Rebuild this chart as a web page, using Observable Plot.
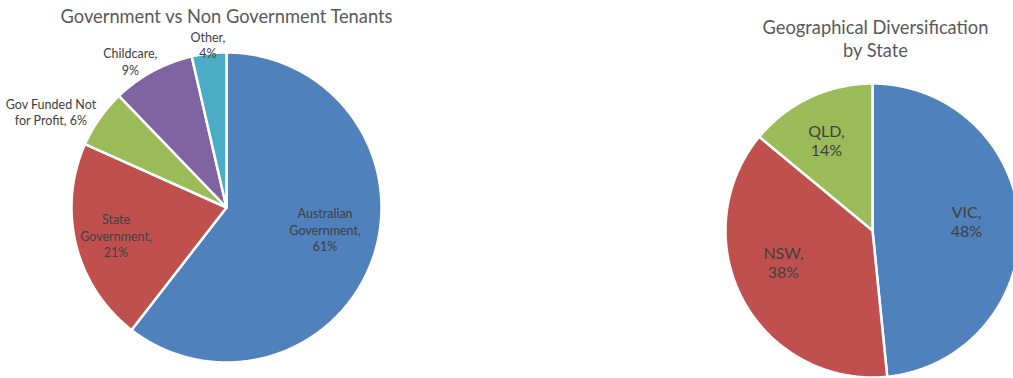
<!DOCTYPE html>
<html><head><meta charset="utf-8">
<script src="https://cdn.jsdelivr.net/npm/d3@7"></script>
<script src="https://cdn.jsdelivr.net/npm/@observablehq/plot@0.6"></script>
<style>body{margin:0;background:#fff;} svg{display:block;}</style>
</head><body><div id="chart"></div>
<script>
// ---- data ----
const tenantCategories = ["Australian Government", "State Government", "Gov Funded Not for Profit", "Childcare", "Other"];
const tenantShares = [60.5, 21.2, 6.1, 8.6, 3.6];
const tenantLabels = ["Australian\nGovernment,\n61%", "State\nGovernment,\n21%", "Gov Funded Not\nfor Profit, 6%", "Childcare,\n9%", "Other,\n4%"];
const stateCategories = ["VIC", "NSW", "QLD"];
const stateShares = [48.4, 37.6, 14.0];
const stateLabels = ["VIC,\n48%", "NSW,\n38%", "QLD,\n14%"];
const titles = ["Government vs Non Government Tenants", "Geographical Diversification\nby State"];

// ---- layout / style ----
const W = 1013, H = 378;
const palette = ["#4F81BD", "#C0504D", "#9BBB59", "#8064A2", "#4BACC6"];
const pies = [
  {cats: tenantCategories, vals: tenantShares, labels: tenantLabels, cx: 226, cy: 207, r: 155,
   labR: [101, 114, 200, 175, 164], labDA: [-6.4, -0.2, -6.5, -4.9, 0], fontSize: 12.5, lineHeight: 1.3,
   title: titles[0], titleDX: 0, titleY: 15},
  {cats: stateCategories, vals: stateShares, labels: stateLabels, cx: 872, cy: 230, r: 147,
   labR: [94.4, 94.6, 101], labDA: [-2.6, 8.3, -1.9], fontSize: 16, lineHeight: 1.2,
   title: titles[1], titleDX: 3, titleY: 38}
];

const slices = [], labelPts = [], titlePts = [];
for (const p of pies) {
  const data = p.cats.map((c, i) => ({cat: c, value: p.vals[i], label: p.labels[i], i}));
  const arcs = d3.pie().sort(null).value(d => d.value)(data);
  for (const a of arcs) {
    const key = a.data.cat;
    slices.push({x: p.cx, y: p.cy, key});
    const n = Math.max(2, Math.ceil((a.endAngle - a.startAngle) / (Math.PI / 360)));
    for (let k = 0; k <= n; k++) {
      const t = a.startAngle + (a.endAngle - a.startAngle) * k / n;
      slices.push({x: p.cx + p.r * Math.sin(t), y: p.cy - p.r * Math.cos(t), key});
    }
    const mid = (a.startAngle + a.endAngle) / 2 + p.labDA[a.data.i] * Math.PI / 180;
    const lr = p.labR[a.data.i];
    labelPts.push({x: p.cx + lr * Math.sin(mid), y: p.cy - lr * Math.cos(mid), text: a.data.label, pie: p});
  }
  titlePts.push({x: p.cx + p.titleDX, y: p.titleY, text: p.title});
}

const colorDomain = [...tenantCategories, ...stateCategories];
const colorRange = [...palette.slice(0, 5), ...palette.slice(0, 3)];
const font = "Lato, 'Open Sans', sans-serif";

const chart = Plot.plot({
  width: W, height: H,
  margin: 0,
  style: {fontFamily: font, background: "#fff"},
  x: {domain: [0, W], range: [0, W], axis: null},
  y: {domain: [0, H], range: [0, H], axis: null},
  color: {domain: colorDomain, range: colorRange},
  marks: [
    Plot.line(slices, {x: "x", y: "y", z: "key", fill: "key", stroke: "white", strokeWidth: 2.5,
      strokeLinejoin: "round", curve: "linear-closed"}),
    ...pies.map(p => Plot.text(labelPts.filter(d => d.pie === p), {x: "x", y: "y", text: "text",
      fontSize: p.fontSize, lineHeight: p.lineHeight, fill: "#404040", textAnchor: "middle", lineAnchor: "middle"})),
    Plot.text(titlePts, {x: "x", y: "y", text: "text", fontSize: 18.3, lineHeight: 1.25,
      fill: "#595959", textAnchor: "middle", lineAnchor: "middle"})
  ]
});
document.getElementById("chart").appendChild(chart);
</script>
</body></html>
